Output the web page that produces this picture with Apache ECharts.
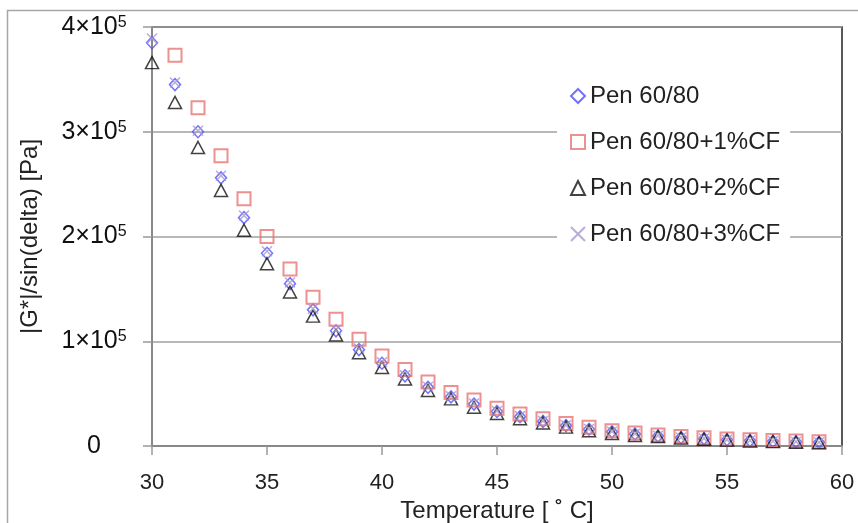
<!DOCTYPE html>
<html>
<head>
<meta charset="utf-8">
<script src="https://cdn.jsdelivr.net/npm/echarts@6/dist/echarts.min.js"></script>
<style>html,body{margin:0;padding:0;background:#fff}#c{width:858px;height:523px}</style>
</head>
<body>
<div id="c"></div>
<script>
const temps = [30,31,32,33,34,35,36,37,38,39,40,41,42,43,44,45,46,47,48,49,50,51,52,53,54,55,56,57,58,59];
const pen = [385000,345000,300000,256000,218000,184000,155000,130000,110000,92000,79000,67000,56000,47000,40000,33000,28000,23500,19500,16000,13500,11500,9500,8000,7000,6000,5200,4600,4000,3500];
const pen1 = [null,373000,323000,277000,236000,200000,169000,142000,121000,102000,86000,73000,61000,51000,44000,36000,30500,26000,21500,18000,14500,12500,10500,9000,7800,6800,6000,5300,4700,4100];
const pen2 = [366000,328000,285000,244000,206000,174000,147000,124000,106000,89000,75000,64000,53000,45000,37000,31000,26000,22000,18000,14500,12000,10000,9000,7500,6500,5600,4800,4200,3600,3100];
const pen3 = [389000,347000,301000,258000,220000,186000,156000,131000,111000,93000,80000,67500,56500,47500,40500,33500,28500,24000,19800,16300,13800,11700,9700,8200,7100,6100,5300,4700,4100,3600];
const seriesNames = ['Pen 60/80','Pen 60/80+1%CF','Pen 60/80+2%CF','Pen 60/80+3%CF'];
const xTicks = [30,35,40,45,50,55,60];
const yTicks = [0,100000,200000,300000,400000];

function pairs(vals){ return temps.map((t,i)=>vals[i]==null?null:[t,vals[i]]).filter(p=>p); }

const chart = echarts.init(document.getElementById('c'), null, {renderer:'canvas'});
const FONT = 'Liberation Sans, Arial, sans-serif';
chart.setOption({
  animation:false,
  backgroundColor:'#fff',
  textStyle:{fontFamily:FONT},
  graphic:[{type:'rect', shape:{x:7.5,y:10.5,width:900,height:600}, style:{fill:'none', stroke:'#a6a6a6', lineWidth:1.5}, z:-1, silent:true}],
  grid:{left:152, right:16, top:27, bottom:77, show:true, borderColor:'#222', borderWidth:1.5, outerBoundsMode:'none', containLabel:false},
  legend:{
    orient:'vertical', left:557, top:76,
    backgroundColor:'#fff', padding:[8,10,8,13],
    itemWidth:14, itemHeight:14, itemGap:22,
    textStyle:{fontSize:24, color:'#222', fontFamily:FONT, lineHeight:24},
    data:seriesNames
  },
  xAxis:{
    type:'value', min:30, max:60, interval:5,
    name:'Temperature [ ˚ C]', nameLocation:'middle', nameGap:38,
    nameTextStyle:{fontSize:24, color:'#222', fontFamily:FONT},
    axisLine:{lineStyle:{color:'#888', width:2}},
    axisTick:{show:true, length:9, lineStyle:{color:'#999', width:1.5}},
    axisLabel:{fontSize:22, color:'#222', margin:26, fontFamily:FONT,
      formatter:v=>xTicks.includes(v)?String(v):''},
    splitLine:{show:false}
  },
  yAxis:{
    type:'value', min:0, max:400000, interval:100000,
    name:'|G*|/sin(delta) [Pa]', nameLocation:'middle', nameGap:110, nameRotate:90,
    nameTextStyle:{fontSize:24, color:'#222', fontFamily:FONT},
    axisLine:{show:true, lineStyle:{color:'#888', width:2}},
    axisTick:{show:true, length:9, lineStyle:{color:'#999', width:1.5}},
    axisLabel:{margin:58, align:'center', color:'#111', fontFamily:FONT,
      formatter:v=>{ if(!yTicks.includes(v)) return ''; if(v===0) return '{b|0}'; return '{b|'+(v/100000)+'×10}{s|5}'; },
      rich:{b:{fontSize:25, color:'#111', fontFamily:FONT}, s:{fontSize:16, color:'#111', verticalAlign:'top', fontFamily:FONT}}
    },
    splitLine:{show:true, lineStyle:{color:'#a0a0a0', width:1.5}}
  },
  series:[
    {name:seriesNames[0], type:'scatter', data:pairs(pen), symbol:'diamond', symbolSize:[11,12],
      itemStyle:{color:'rgba(0,0,0,0)', borderColor:'#4f4fff', borderWidth:1.5}},
    {name:seriesNames[1], type:'scatter', data:pairs(pen1), symbol:'rect', symbolSize:13,
      itemStyle:{color:'rgba(0,0,0,0)', borderColor:'#e87474', borderWidth:2}},
    {name:seriesNames[2], type:'scatter', data:pairs(pen2), symbol:'triangle', symbolSize:[13,12],
      itemStyle:{color:'rgba(0,0,0,0)', borderColor:'#111', borderWidth:1.5}},
    {name:seriesNames[3], type:'scatter', data:pairs(pen3), symbol:'path://M0,0L10,10M0,10L10,0', symbolSize:10,
      itemStyle:{color:'rgba(0,0,0,0)', borderColor:'#a898cc', borderWidth:1.5}}
  ]
});
</script>
</body>
</html>
